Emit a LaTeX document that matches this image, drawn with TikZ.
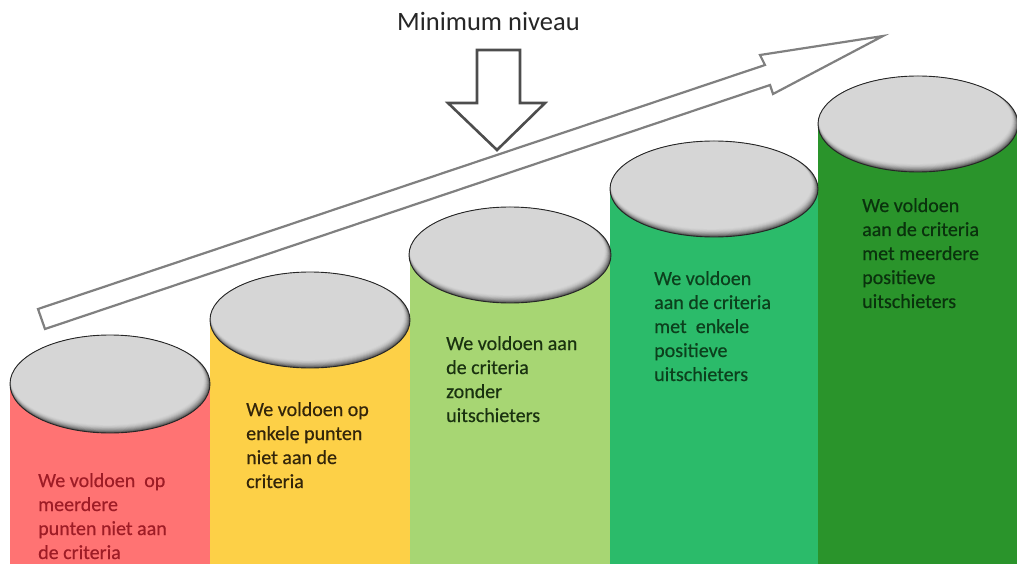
\documentclass[tikz,border=0pt]{standalone}
\usepackage{fontspec}
\setmainfont{Carlito}
\newfontfamily\lblfont[FakeBold=0.5]{Carlito}
\definecolor{cred}{HTML}{FF7373}
\definecolor{cyel}{HTML}{FDD047}
\definecolor{clg}{HTML}{A7D673}
\definecolor{cgr}{HTML}{2BBB6A}
\definecolor{cdg}{HTML}{2A942B}
\definecolor{topg}{HTML}{D6D6D6}
\definecolor{tred}{HTML}{9E1C26}
\definecolor{tyel}{HTML}{33250A}
\definecolor{tlg}{HTML}{1A3210}
\definecolor{tgr}{HTML}{0C401D}
\definecolor{tdg}{HTML}{0A320D}
\definecolor{arrg}{HTML}{808080}
\definecolor{arrd}{HTML}{4D4D4D}
\newcommand\mylines[1]{\vtop{\halign{##\hfil\cr#1\crcr}}}
\newcommand\cyltop[4]{%
  \begin{scope}
    \clip (#1,#2) ellipse [x radius=#3pt, y radius=#4pt];
    \foreach \k in {0,...,10}{
      \pgfmathtruncatemacro\p{62*(1-\k/10)*(1-\k/10)}
      \pgfmathsetmacro\rxx{#3-0.4*\k}
      \pgfmathsetmacro\ryy{#4-0.4*\k}
      \pgfmathsetmacro\cxx{#1-0.3*\k}
      \pgfmathsetmacro\cyy{#2-0.5*\k}
      \fill[black!\p!topg] (\cxx,\cyy) ellipse [x radius=\rxx pt, y radius=\ryy pt];
    }
  \end{scope}
  \draw[rim] (#1,#2) ellipse [x radius=#3pt, y radius=#4pt];
}
\tikzset{
  rim/.style={draw=black!85, line width=0.9pt},
  lbl/.style={inner sep=0pt, anchor=base west, font=\lblfont\fontsize{20}{24}\selectfont},
  bigarrow/.style={draw=arrg, fill=white, line width=2.2pt, line join=miter},
  downarrow/.style={draw=arrd, fill=white, line width=2.6pt, line join=miter}
}
\begin{document}
\begin{tikzpicture}[x=1pt,y=-1pt]
\useasboundingbox (0,0) rectangle (1017,564);
\clip (0,0) rectangle (1017,564);
\fill[white] (0,0) rectangle (1017,564);
% bodies
\fill[cred] (10,384) rectangle (210,564);
\fill[cyel] (210,320) rectangle (410,564);
\fill[clg] (410,255) rectangle (610,564);
\fill[cgr] (610,189) rectangle (818,564);
\fill[cdg] (818,124) rectangle (1020,564);
% tops
\cyltop{110}{384}{100}{49}
\cyltop{310}{320}{100}{48}
\cyltop{510}{255}{101}{48}
\cyltop{714}{189}{104}{48}
\cyltop{918}{124}{100}{48}
% texts
\node[lbl, text=tred] (t1) at (38,487) {\mylines{We voldoen~~op\cr meerdere\cr punten niet aan\cr de criteria}};
\node[lbl, text=tyel] (t2) at (246,416) {\mylines{We voldoen op\cr enkele punten\cr niet aan de\cr criteria}};
\node[lbl, text=tlg] (t3) at (446,350) {\mylines{We voldoen aan\cr de criteria\cr zonder\cr uitschieters}};
\node[lbl, text=tgr] (t4) at (654,285) {\mylines{We voldoen\cr aan de criteria\cr met~~enkele\cr positieve\cr uitschieters}};
\node[lbl, text=tdg] (t5) at (862,212) {\mylines{We voldoen\cr aan de criteria\cr met meerdere\cr positieve\cr uitschieters}};
% rising arrow
\draw[bigarrow] (38,309) -- (765,65) -- (760,55) -- (883,36) -- (773,94) -- (770,85) -- (45,329) -- cycle;
% minimum level arrow
\draw[downarrow] (477,50) -- (520,50) -- (520,103) -- (545,103) -- (497,150) -- (448,103) -- (477,103) -- cycle;
\node[inner sep=0pt, anchor=base west, text=black!85, font=\fontsize{26.5}{30}\selectfont] (title) at (397,31) {Minimum niveau};
\end{tikzpicture}
\end{document}
